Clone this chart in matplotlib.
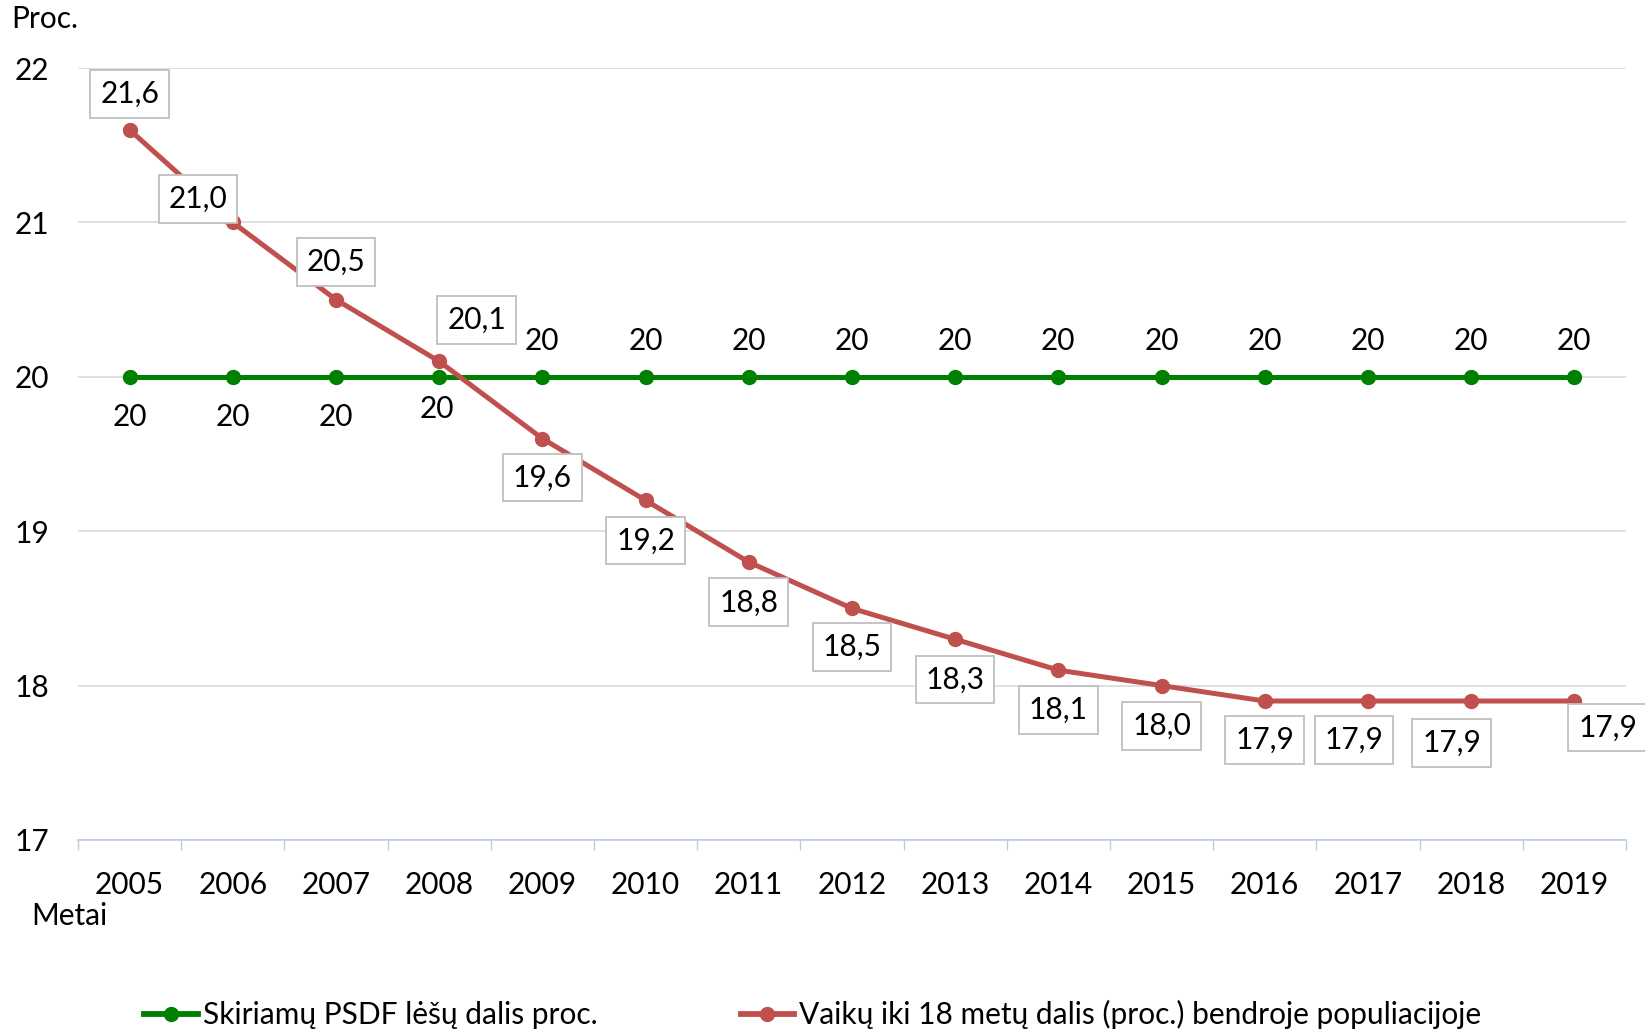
import matplotlib
matplotlib.use("Agg")
import matplotlib.pyplot as plt
from matplotlib.lines import Line2D

plt.rcParams['font.family'] = ['Lato', 'DejaVu Sans']

years = ['2005', '2006', '2007', '2008', '2009', '2010', '2011', '2012',
         '2013', '2014', '2015', '2016', '2017', '2018', '2019']
psdf_share = [20] * 15
children_share = [21.6, 21.0, 20.5, 20.1, 19.6, 19.2, 18.8, 18.5,
                  18.3, 18.1, 18.0, 17.9, 17.9, 17.9, 17.9]
psdf_name = 'Skiriamų PSDF lėšų dalis proc.'
children_name = 'Vaikų iki 18 metų dalis (proc.) bendroje populiacijoje'
y_ticks = [17, 18, 19, 20, 21, 22]

# label layout offsets (points)
red_offsets = [(0, 26), (-25, 17), (0, 27), (27, 30), (0, -28), (0, -29), (0, -29),
               (0, -28), (0, -29), (0, -28.5), (0, -29), (0, -28), (-10, -28),
               (-14, -30), (24, -19)]
green_offsets = [(0, -29), (0, -29), (0, -29), (-2, -23)] + [(0, 26)] * 11

GREEN = '#008000'
RED = '#C0504D'
FS = 21.5
LW = 3.6
MS = 10

fig = plt.figure(figsize=(16.45, 10.31), dpi=100)
ax = fig.add_axes([0.0474, 0.1853, 0.9410, 0.7487])
x = list(range(len(years)))

ax.plot(x, psdf_share, color=GREEN, lw=LW, marker='o', ms=MS, zorder=3)
ax.plot(x, children_share, color=RED, lw=LW, marker='o', ms=MS, zorder=4)

ax.set_xlim(-0.5, len(years) - 0.5)
ax.set_ylim(17, 22)
ax.set_yticks(y_ticks)
ax.set_yticklabels([str(t) for t in y_ticks], fontsize=FS)
ax.set_xticks(x)
ax.set_xticklabels(years, fontsize=FS)
ax.tick_params(axis='y', length=0, pad=21)
ax.tick_params(axis='x', length=0, pad=22)
ax.set_xticks([i - 0.5 for i in range(len(years) + 1)], minor=True)
ax.tick_params(axis='x', which='minor', length=7, width=1, color='#BCCCE2', direction='out')

ax.grid(axis='y', color='#D9D9D9', lw=1.2)
ax.set_axisbelow(True)
for s in ['left', 'right', 'top']:
    ax.spines[s].set_visible(False)
ax.spines['bottom'].set_color('#BCCCE2')
ax.spines['bottom'].set_linewidth(1.2)

for i, v in enumerate(psdf_share):
    ax.annotate(f'{v}', (i, v), xytext=green_offsets[i], textcoords='offset points',
                ha='center', va='center', fontsize=FS, zorder=6)

for i, v in enumerate(children_share):
    ax.annotate(f'{v:.1f}'.replace('.', ','), (i, v), xytext=red_offsets[i],
                textcoords='offset points', ha='center', va='center', fontsize=FS,
                bbox=dict(boxstyle='square,pad=0.33', fc='white', ec='#BFBFBF', lw=1.3),
                zorder=7)

fig.text(0.007, 0.982, 'Proc.', fontsize=FS, ha='left', va='center')
fig.text(0.019, 0.112, 'Metai', fontsize=FS, ha='left', va='center')

handles = [Line2D([0], [0], color=GREEN, lw=4.2, marker='o', ms=MS),
           Line2D([0], [0], color=RED, lw=4.2, marker='o', ms=MS)]
fig.legend(handles, [psdf_name, children_name], loc='center', ncol=2,
           bbox_to_anchor=(0.494, 0.016), frameon=False, fontsize=FS,
           handlelength=1.8, handletextpad=0.15, columnspacing=4.8)

fig.savefig('out.png', dpi=100)
